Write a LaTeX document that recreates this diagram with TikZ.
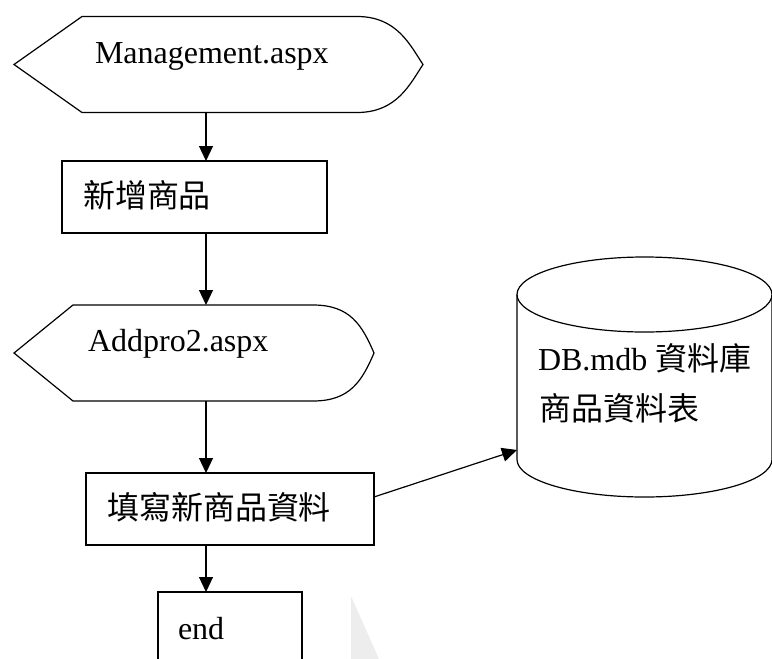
\documentclass[tikz,border=0pt]{standalone}
\usepackage{fontspec}
\setmainfont{Liberation Serif}
\newfontfamily\cjk{Noto Sans CJK TC}
\usetikzlibrary{arrows.meta,calc}
\begin{document}
\begin{tikzpicture}[x=1pt,y=-1pt,line width=1.2pt,
  frame/.style={inner sep=0pt,outer sep=0pt,draw=none,rectangle},
  box/.style={draw,inner sep=0pt,outer sep=0pt,rectangle},
  lbl/.style={anchor=base west,inner sep=0pt,outer sep=0pt,font=\fontsize{32}{38}\selectfont},
  arr/.style={-{Triangle[length=15pt,width=14pt]}}]
\clip (0,0) rectangle (772,659);
% faint background fragment
\fill[black!7] (351,596) -- (379,659) -- (351,659) -- cycle;
% frames
\node[frame,minimum width=409pt,minimum height=96pt] (mgmt) at (218.5,64.5) {};
\node[box,minimum width=265pt,minimum height=72pt] (add) at (194.5,197) {};
\node[frame,minimum width=360pt,minimum height=96pt] (addp) at (194,353) {};
\node[box,minimum width=288pt,minimum height=72pt] (fill) at (230,509) {};
\node[box,minimum width=144pt,minimum height=80pt] (endb) at (230,632) {};
\node[frame,minimum width=255pt,minimum height=240pt] (db) at (644.5,377) {};
% display shapes
\draw (mgmt.west) -- (82,16.5) -- (357,16.5) .. controls (397,16.5) and (410,45) .. (mgmt.east)
      .. controls (410,84) and (397,112.5) .. (357,112.5) -- (82,112.5) -- cycle;
\draw (addp.west) -- (73,305) -- (313,305) .. controls (350,305) and (362,325) .. (addp.east)
      .. controls (362,381) and (350,401) .. (313,401) -- (73,401) -- cycle;
% cylinder
\draw (644.5,294.5) ellipse [x radius=127.5pt,y radius=37.5pt];
\draw (517,294.5) -- (517,459.5) arc [start angle=180,end angle=360,x radius=127.5pt,y radius=37.5pt] -- (772,294.5);
% texts
\node[lbl] (t1) at (95,63) {Management.aspx};
\node[lbl] (t2) at (83,207.5) {\cjk 新增商品};
\node[lbl] (t3) at (88,351) {Addpro2.aspx};
\node[lbl] (t4) at (107,519.5) {\cjk 填寫新商品資料};
\node[lbl] (t5) at (178,639) {end};
\node[lbl] (t6) at (538,370) {DB.mdb {\cjk 資料庫}};
\node[lbl] (t7) at (539,420.5) {\cjk 商品資料表};
% connectors
\coordinate (axis) at (206,0);
\draw[arr] (mgmt.south -| axis) -- (add.north -| axis);
\draw[arr] (add.south -| axis) -- (addp.north -| axis);
\draw[arr] (addp.south -| axis) -- (fill.north -| axis);
\draw[arr] (fill.south -| axis) -- (endb.north -| axis);
\draw[arr] ($(fill.north east)!0.333!(fill.south east)$) -- ($(db.north west)!0.804!(db.south west)$);
\end{tikzpicture}
\end{document}
